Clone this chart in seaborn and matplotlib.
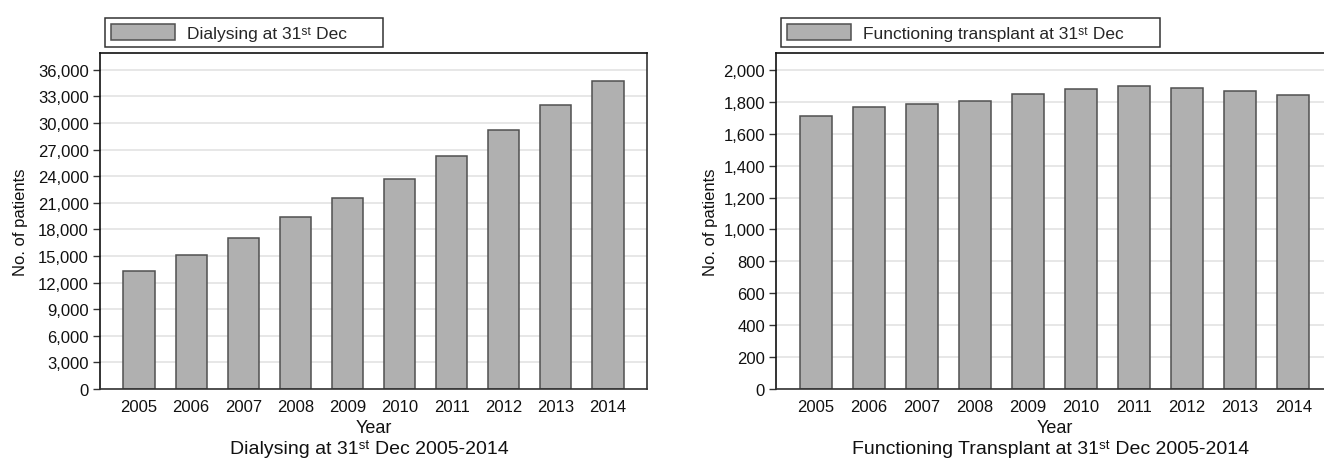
import matplotlib
matplotlib.use("Agg")
import matplotlib.pyplot as plt
import seaborn as sns
from matplotlib.patches import Patch
from matplotlib.ticker import FuncFormatter

# Patients on renal replacement therapy at 31st December each year
years = [2005, 2006, 2007, 2008, 2009, 2010, 2011, 2012, 2013, 2014]
dialysing = [13350, 15090, 17040, 19380, 21560, 23670, 26260, 29160, 31980, 34730]
transplant = [1714, 1768, 1785, 1804, 1850, 1879, 1902, 1887, 1866, 1841]

legend_labels = ["Dialysing at 31\u02e2\u1d57 Dec",
                 "Functioning transplant at 31\u02e2\u1d57 Dec"]
subtitles = ["Dialysing at 31\u02e2\u1d57 Dec 2005-2014",
             "Functioning Transplant at 31\u02e2\u1d57 Dec 2005-2014"]

sns.set_style("white")
plt.rcParams["font.family"] = ["Liberation Sans", "DejaVu Sans"]

BAR = "#b0b0b0"
EDGE = "#505050"
GRID = "#e3e3e3"
INK = "#111111"

W, H = 1324, 460
fig = plt.figure(figsize=(W / 100, H / 100), dpi=100)
ax1 = fig.add_axes([100 / W, 70 / H, 547 / W, 336 / H])
ax2 = fig.add_axes([776 / W, 70 / H, 557 / W, 336 / H])

panels = [
    (ax1, dialysing, 37900, 3000, 36000, legend_labels[0], subtitles[0], 105, 278, 7),
    (ax2, transplant, 2106, 200, 2000, legend_labels[1], subtitles[1], 781, 379, 4),
]

comma = FuncFormatter(lambda v, _: f"{int(round(v)):,}")

for ax, vals, ymax, step, top_tick, leg, sub, leg_x, leg_w, ypad in panels:
    sns.barplot(x=years, y=vals, ax=ax, color=BAR, saturation=1,
                edgecolor=EDGE, linewidth=1.1, width=0.6)
    ax.set_xlim(-0.75, 9.75)
    ax.set_ylim(0, ymax)
    ax.set_yticks(list(range(0, top_tick + 1, step)))
    ax.yaxis.set_major_formatter(comma)
    ax.set_axisbelow(True)
    ax.yaxis.grid(True, color=GRID, linewidth=1.2)
    ax.xaxis.grid(False)
    for side in ["top", "left"]:
        ax.spines[side].set_color(INK)
        ax.spines[side].set_linewidth(1.2)
    for side in ["bottom", "right"]:
        ax.spines[side].set_color("#333333")
        ax.spines[side].set_linewidth(1.2)
    ax.tick_params(axis="y", which="major", left=True, length=5, width=1,
                   color="#333333", pad=3, labelsize=12, labelcolor=INK)
    ax.tick_params(axis="x", length=0, pad=7, labelsize=12, labelcolor=INK)
    ax.set_ylabel("No. of patients", fontsize=12, labelpad=ypad, color=INK)
    ax.set_xlabel("Year", fontsize=13, labelpad=4, color=INK)
    ax.annotate(sub, xy=(0.5, 0), xycoords="axes fraction",
                xytext=(-4, -64), textcoords="offset pixels",
                ha="center", va="baseline", fontsize=14, color=INK)

    handle = Patch(facecolor=BAR, edgecolor=EDGE, linewidth=1.1)
    lg = ax.legend(handles=[handle], labels=[leg], loc="lower left",
                   bbox_to_anchor=(leg_x / W, (H - 48) / H, leg_w / W, 31 / H),
                   bbox_transform=fig.transFigure, mode="expand",
                   borderaxespad=0, borderpad=0.35, handlelength=3.7,
                   handleheight=1.05, handletextpad=0.65, fontsize=12.5,
                   frameon=True, fancybox=False)
    fr = lg.get_frame()
    fr.set_edgecolor("#333333")
    fr.set_linewidth(1.1)
    fr.set_facecolor("white")
    fr.set_alpha(1)

fig.savefig("out.png", dpi=100)
